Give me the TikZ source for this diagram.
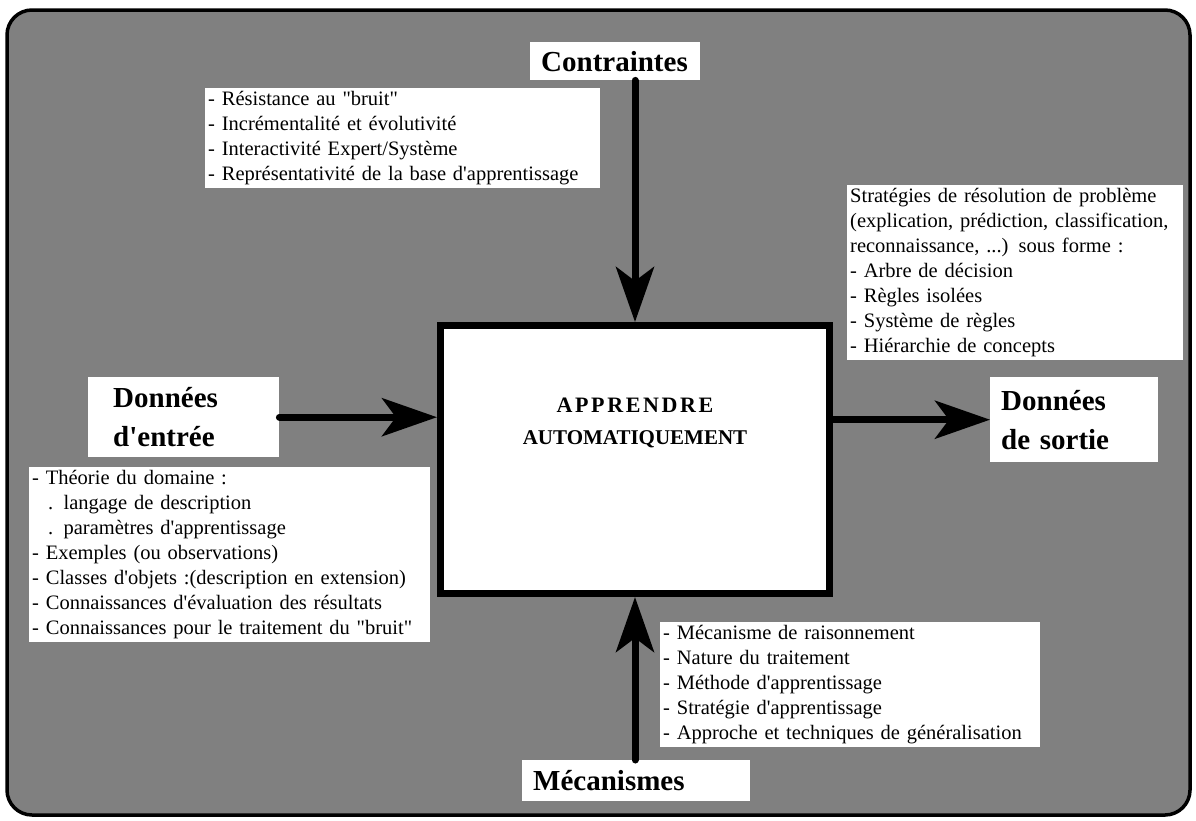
\documentclass[tikz,border=0pt]{standalone}
\usepackage{fontspec}
\newfontfamily\diagfont{Liberation Serif}
\newfontfamily\spacedfont{Liberation Serif}[LetterSpace=12]
\usepackage{tikz}
\usetikzlibrary{arrows.meta, positioning}

\definecolor{framegray}{RGB}{128,128,128}

\tikzset{
    listbox/.style={fill=white, align=left, anchor=north west, inner xsep=3pt, inner ysep=3pt,
        font=\diagfont\fontsize{20.5}{25}\selectfont},
    titlebox/.style={fill=white, align=left, anchor=north west, inner xsep=11pt,
        font=\diagfont\fontsize{29}{39}\selectfont\bfseries},
    flow/.style={line width=7pt, line cap=round,
        -{Stealth[length=55pt, width=38pt, inset=14pt]}},
}

\begin{document}
\begin{tikzpicture}[x=1pt, y=-1pt]
    \useasboundingbox (0,0) rectangle (1196,820);
    \draw[line width=3.5pt, rounded corners=25pt, fill=framegray] (7,10) rectangle (1190,815);

    % central process
    \node[draw, line width=7pt, fill=white, minimum width=389pt, minimum height=268pt] (learn) at (635,459.5) {};
    \node[font=\spacedfont\fontsize{22}{32}\selectfont\bfseries, align=center] (learntext) at (635,423)
        {APPRENDRE\\{\diagfont\fontsize{21}{32}\selectfont AUTOMATIQUEMENT}};

    % labels
    \node[titlebox, text width=148pt, minimum height=38pt] (cons) at (530,42) {Contraintes};
    \node[titlebox, inner xsep=25pt, text width=141pt, minimum height=80pt] (in) at (88,377) {Données\\d'entrée};
    \node[titlebox, text width=146pt, minimum height=85pt] (out) at (990,377) {Données\\de sortie};
    \node[titlebox, text width=206pt, minimum height=41pt] (mech) at (522,760) {Mécanismes};

    % lists
    \node[listbox, text width=389pt] (conslist) at (205,88) {- Résistance au "bruit"\\
        - Incrémentalité et évolutivité\\
        - Interactivité Expert/Système\\
        - Représentativité de la base d'apprentissage};
    \node[listbox, text width=330pt] (outlist) at (847,185) {Stratégies de résolution de problème\\
        (explication, prédiction, classification,\\
        reconnaissance, ...) sous forme :\\
        - Arbre de décision\\
        - Règles isolées\\
        - Système de règles\\
        - Hiérarchie de concepts};
    \node[listbox, text width=395pt] (inlist) at (29,467) {- Théorie du domaine :\\
        \hspace*{16pt}. langage de description\\
        \hspace*{16pt}. paramètres d'apprentissage\\
        - Exemples (ou observations)\\
        - Classes d'objets :(description en extension)\\
        - Connaissances d'évaluation des résultats\\
        - Connaissances pour le traitement du "bruit"};
    \node[listbox, text width=374pt] (mechlist) at (660,622) {- Mécanisme de raisonnement\\
        - Nature du traitement\\
        - Méthode d'apprentissage\\
        - Stratégie d'apprentissage\\
        - Approche et techniques de généralisation};

    % arrows
    \draw[flow] (cons.south -| learn.north) -- (learn.north);
    \draw[flow] (in.east) -- (learn.west |- in.east);
    \draw[flow] (learn.east |- out.west) -- (out.west);
    \draw[flow] (mech.north -| learn.south) -- (learn.south);
\end{tikzpicture}
\end{document}
